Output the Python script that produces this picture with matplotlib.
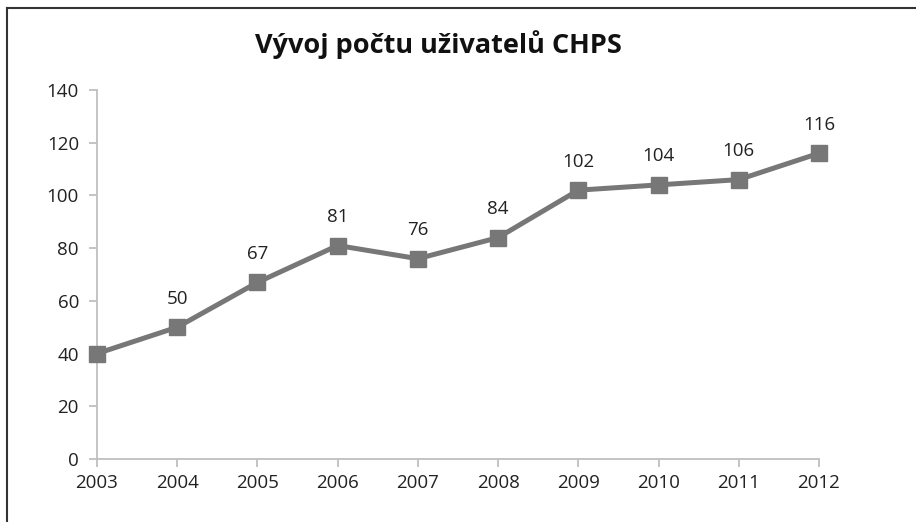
import matplotlib
matplotlib.use("Agg")
import matplotlib.pyplot as plt
from matplotlib.lines import Line2D

years = [2003, 2004, 2005, 2006, 2007, 2008, 2009, 2010, 2011, 2012]
users = [40, 50, 67, 81, 76, 84, 102, 104, 106, 116]
yticks = [0, 20, 40, 60, 80, 100, 120, 140]
title = "Vývoj počtu uživatelů CHPS"

plt.rcParams['font.family'] = ['Open Sans', 'DejaVu Sans']

fig = plt.figure(figsize=(9.16, 5.22), dpi=100)
ax = fig.add_axes([97/916, 1-459/522, (819-97)/916, (459-90)/522])

line_col = '#777777'
ax.plot(years, users, color=line_col, lw=3.6, marker='s', markersize=11,
        markerfacecolor=line_col, markeredgecolor=line_col, clip_on=False, zorder=3)
for x, y in zip(years[1:], users[1:]):
    ax.annotate(str(y), (x, y), xytext=(0, 14), textcoords='offset points',
                ha='center', va='bottom', fontsize=13.5, color='#222222')

ax.set_xlim(years[0], years[-1])
ax.set_ylim(0, 140)
ax.set_xticks(years)
ax.set_xticklabels([str(y) for y in years])
ax.set_yticks(yticks)
for s in ['top', 'right']:
    ax.spines[s].set_visible(False)
for s in ['left', 'bottom']:
    ax.spines[s].set_color('#bfbfbf')
    ax.spines[s].set_linewidth(1.3)
ax.tick_params(axis='both', colors='#bfbfbf', labelcolor='#222222', labelsize=13.5,
               length=6, width=1.3, direction='out')
ax.tick_params(axis='x', pad=5)
ax.tick_params(axis='y', pad=7)

fig.text(438/916, 1-45/522, title, ha='center', va='center', fontsize=19.5,
         fontweight='bold', color='#111111')

fig.add_artist(Line2D([7/916, 7/916], [0, 1-8/522], transform=fig.transFigure, color='#333333', lw=1.5))
fig.add_artist(Line2D([7/916, 1], [1-8/522, 1-8/522], transform=fig.transFigure, color='#333333', lw=1.5))

fig.savefig('out.png', dpi=100)
